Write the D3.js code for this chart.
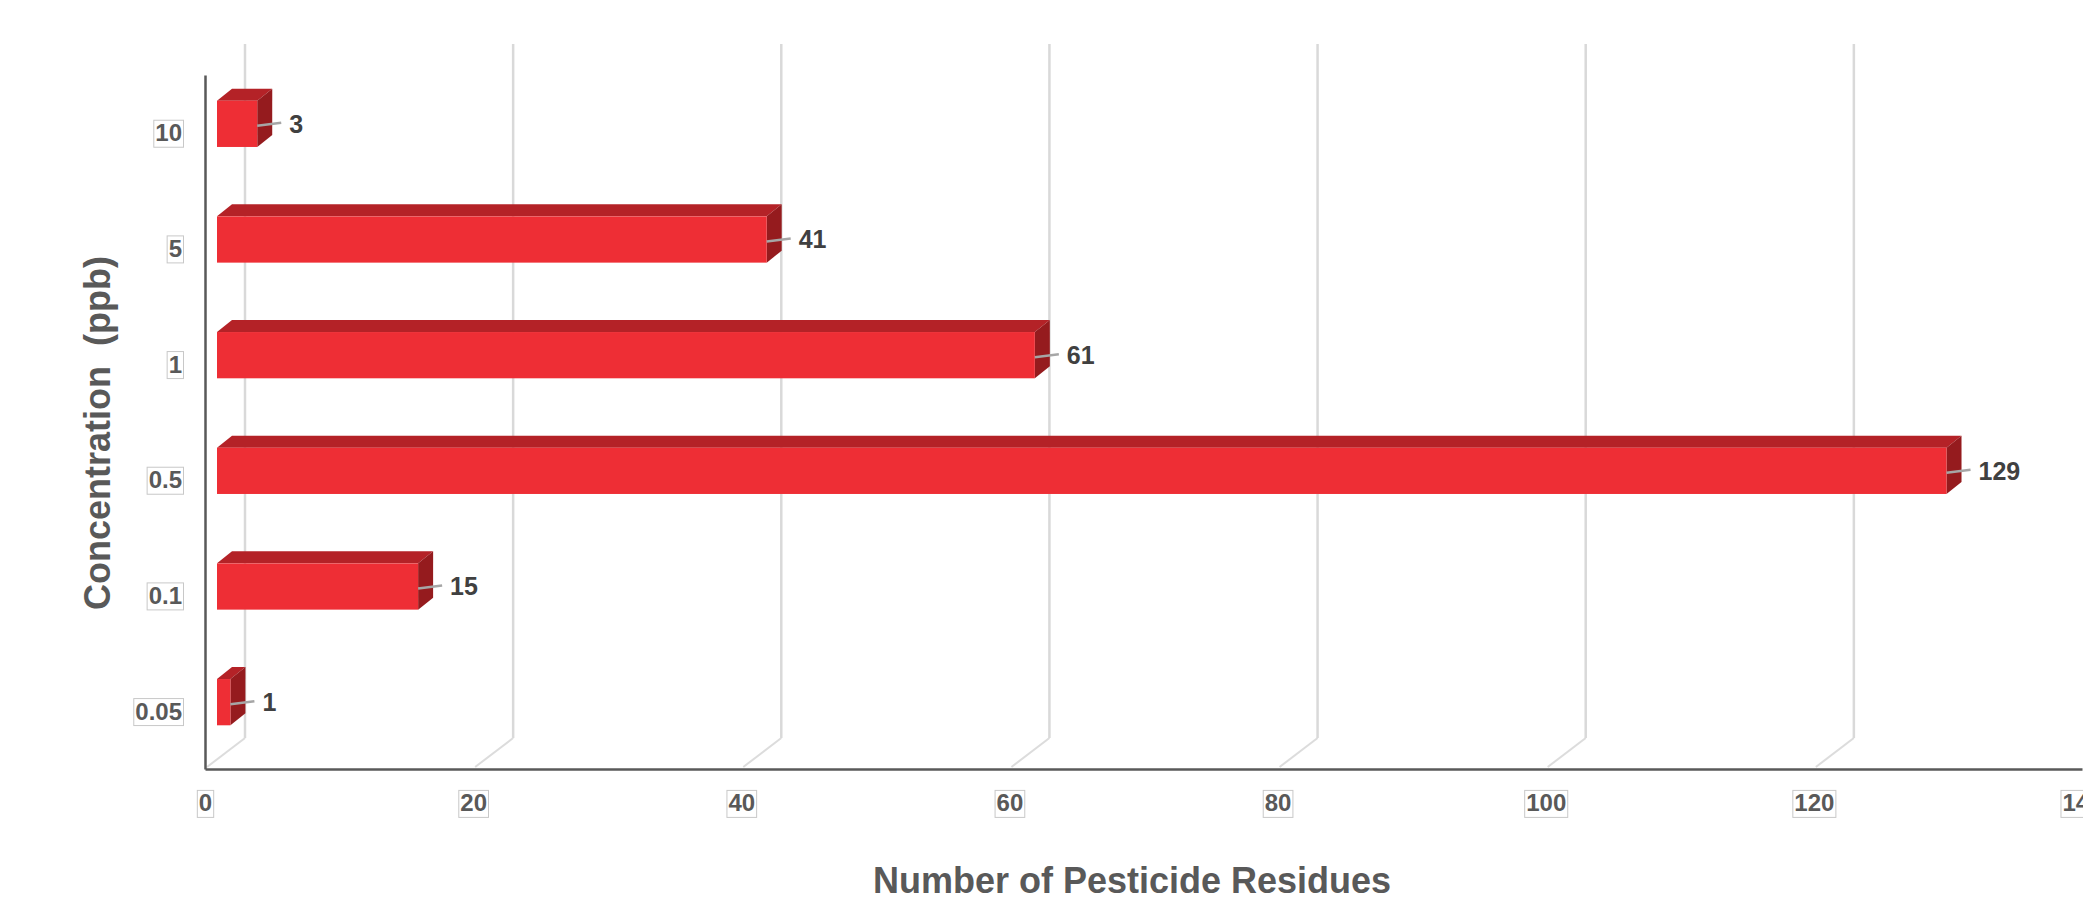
<!DOCTYPE html>
<html>
<head>
<meta charset="utf-8">
<script src="https://cdn.jsdelivr.net/npm/d3@7"></script>
<style>
  body { margin: 0; background: #fff; }
  svg { display: block; font-family: "Liberation Sans", Arial, sans-serif; }
  .tick-box { fill: none; stroke: #c8c8c8; stroke-width: 1; }
</style>
</head>
<body>
<svg width="2083" height="903"></svg>
<script>
// data, top category first
var categories = ["10", "5", "1", "0.5", "0.1", "0.05"];
var counts = [3, 41, 61, 129, 15, 1];
var xTicks = [0, 20, 40, 60, 80, 100, 120, 140];

var svg = d3.select("svg");

// plot box (front plane) and 3D depth
var plotLeft = 205, plotRight = 2082, plotTop = 75, plotBottom = 769;
var depth = {dx: 40, dy: -31};
var barOff = {dx: 12, dy: -9},   // bar front face sits a little into the depth
    barDepth = {dx: 15, dy: -12};

var x = d3.scaleLinear().domain([0, 140]).range([plotLeft, plotRight]);
var y = d3.scaleBand().domain(categories).range([plotTop, plotBottom]);
var barH = y.bandwidth() * 0.4;

// back wall gridlines + floor diagonals
var grid = svg.append("g").attr("class", "grid");
grid.selectAll(".gline")
  .data(xTicks)
  .enter().append("line")
  .attr("x1", function(d) { return x(d) + depth.dx; })
  .attr("x2", function(d) { return x(d) + depth.dx; })
  .attr("y1", plotTop + depth.dy)
  .attr("y2", plotBottom + depth.dy)
  .style("stroke", "#d9d9d9")
  .style("stroke-width", 2.5);
grid.selectAll(".floor")
  .data(xTicks)
  .enter().append("line")
  .attr("x1", function(d) { return x(d) + depth.dx; })
  .attr("x2", function(d) { return x(d) + 2; })
  .attr("y1", plotBottom + depth.dy)
  .attr("y2", plotBottom - 2)
  .style("stroke", "#dcdcdc")
  .style("stroke-width", 2);

// bars
var rows = categories.map(function(c, i) { return {cat: c, value: counts[i]}; });
var bar = svg.selectAll(".bar")
  .data(rows)
  .enter().append("g")
  .attr("class", "bar");

function geo(d) {
  var x0 = x(0) + barOff.dx, x1 = x(d.value) + barOff.dx;
  var cy = y(d.cat) + y.bandwidth() / 2 + barOff.dy;
  return {x0: x0, x1: x1, y0: cy - barH / 2, y1: cy + barH / 2, cy: cy};
}

bar.append("polygon") // top
  .attr("points", function(d) {
    var g = geo(d);
    return [[g.x0, g.y0], [g.x0 + barDepth.dx, g.y0 + barDepth.dy],
            [g.x1 + barDepth.dx, g.y0 + barDepth.dy], [g.x1, g.y0]].join(" ");
  })
  .style("fill", "#b42227");
bar.append("polygon") // side
  .attr("points", function(d) {
    var g = geo(d);
    return [[g.x1, g.y0], [g.x1 + barDepth.dx, g.y0 + barDepth.dy],
            [g.x1 + barDepth.dx, g.y1 + barDepth.dy], [g.x1, g.y1]].join(" ");
  })
  .style("fill", "#951b1e");
bar.append("rect") // front
  .attr("x", function(d) { return geo(d).x0; })
  .attr("y", function(d) { return geo(d).y0; })
  .attr("width", function(d) { return geo(d).x1 - geo(d).x0; })
  .attr("height", barH)
  .style("fill", "#ee2e35");

// value labels with short leader lines
bar.append("line")
  .attr("x1", function(d) { return geo(d).x1; })
  .attr("y1", function(d) { return geo(d).cy + 2; })
  .attr("x2", function(d) { return geo(d).x1 + 24; })
  .attr("y2", function(d) { return geo(d).cy - 1; })
  .style("stroke", "#a6a6a6")
  .style("stroke-width", 2.5);
bar.append("text")
  .attr("x", function(d) { return geo(d).x1 + 32; })
  .attr("y", function(d) { return geo(d).cy; })
  .attr("dy", "0.35em")
  .style("font-size", "25px")
  .style("font-weight", "bold")
  .style("fill", "#404040")
  .text(function(d) { return d.value; });

// axes
var xAxis = svg.append("g")
  .attr("transform", "translate(0," + plotBottom + ")")
  .call(d3.axisBottom(x).tickValues(xTicks).tickSize(0).tickSizeOuter(0));
xAxis.select(".domain").style("stroke", "#595959").style("stroke-width", 2.5);
xAxis.selectAll("text")
  .attr("y", 34).attr("dy", "0.35em");

var yAxis = svg.append("g")
  .attr("transform", "translate(" + plotLeft + ",0)")
  .call(d3.axisLeft(y).tickSize(0).tickSizeOuter(0));
yAxis.select(".domain").style("stroke", "#595959").style("stroke-width", 2.5);
yAxis.selectAll("text")
  .attr("x", -23).attr("dy", "0.35em");

[xAxis, yAxis].forEach(function(ax) {
  ax.selectAll("text")
    .style("font-family", "'Liberation Sans', Arial, sans-serif")
    .style("font-size", "24px")
    .style("font-weight", "bold")
    .style("fill", "#595959");
  ax.selectAll(".tick").each(function() {
    var t = d3.select(this).select("text");
    var b = t.node().getBBox();
    d3.select(this).insert("rect", "text")
      .attr("class", "tick-box")
      .attr("x", b.x - 1.5).attr("y", b.y + 1)
      .attr("width", b.width + 3).attr("height", b.height);
  });
});

// axis titles
svg.append("text")
  .attr("x", 1132)
  .attr("y", 880)
  .attr("dy", "0.35em")
  .attr("text-anchor", "middle")
  .style("font-size", "36px")
  .style("font-weight", "bold")
  .style("fill", "#595959")
  .text("Number of Pesticide Residues");

svg.append("text")
  .attr("transform", "translate(97,433) rotate(-90)")
  .attr("dy", "0.35em")
  .attr("text-anchor", "middle")
  .attr("xml:space", "preserve")
  .style("font-size", "36px")
  .style("font-weight", "bold")
  .style("fill", "#595959")
  .style("white-space", "pre")
  .text("Concentration  (ppb)");
</script>
</body>
</html>
